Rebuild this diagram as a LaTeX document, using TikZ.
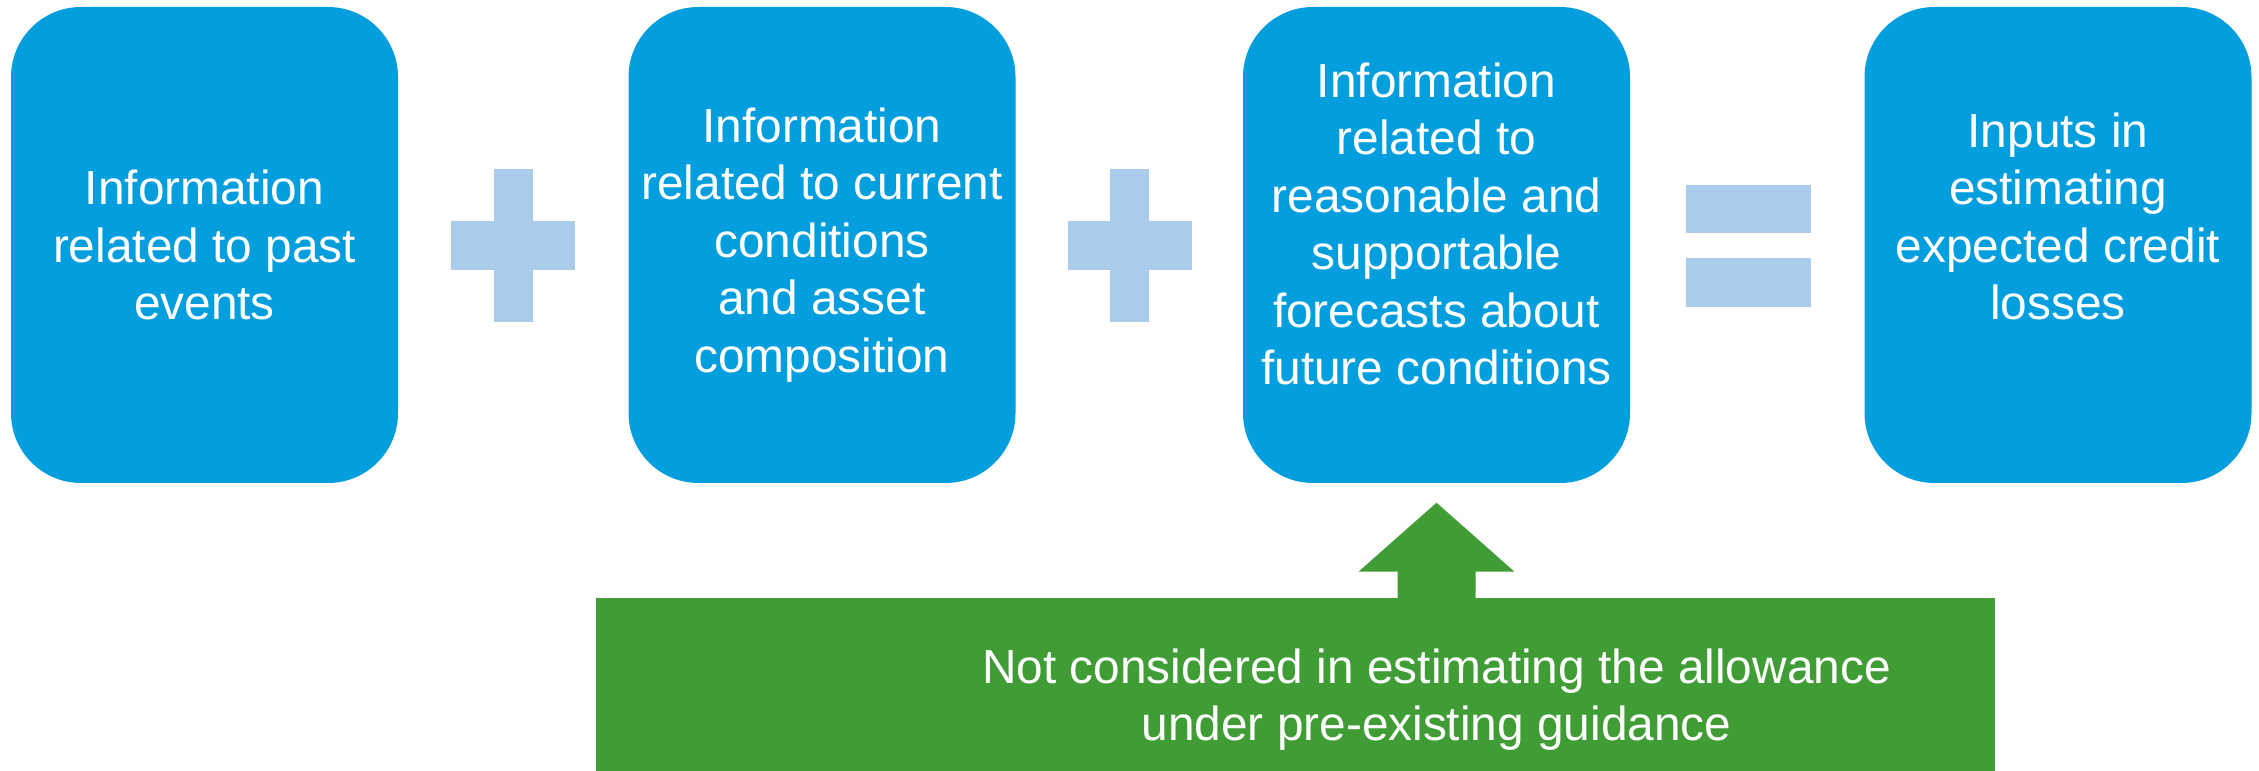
\documentclass[tikz,border=0pt]{standalone}
\usepackage{fontspec}
\setmainfont{Liberation Sans}
\definecolor{ccblue}{RGB}{2,158,221}
\definecolor{cclight}{RGB}{171,203,235}
\definecolor{ccgreen}{RGB}{64,156,52}

\begin{document}
\begin{tikzpicture}[x=1cm,y=1cm,
    infobox/.style={fill=ccblue,rounded corners=7mm,minimum width=3.87cm,minimum height=4.76cm,inner sep=2pt,text=white,align=center,font=\fontsize{13.6}{16.36}\selectfont},
    opbar/.style={fill=cclight,inner sep=0pt},
    notebox/.style={fill=ccgreen,minimum width=13.99cm,minimum height=2.04cm,inner sep=0pt},
    notetext/.style={text=white,align=center,inner sep=0pt,font=\fontsize{13.6}{16.36}\selectfont}]
    \useasboundingbox (0,0) rectangle (22.59,-7.71);

    \node[infobox] (past) at (2.045,-2.45) {Information\\related to past\\events};
    \node[infobox] (current) at (8.22,-2.45) {Information\\related to current\\conditions\\and asset\\composition};
    \node[infobox] (forecast) at (14.365,-2.45) {Information\\related to\\reasonable and\\supportable\\forecasts about\\future conditions\\[-0.145cm]\mbox{}};
    \node[infobox] (inputs) at (20.58,-2.45) {Inputs in\\estimating\\expected credit\\losses\\\mbox{}};

    % plus and equals signs
    \foreach \x/\name in {5.13/plusa,11.295/plusb} {
      \node[opbar,minimum width=1.24cm,minimum height=0.49cm] (\name h) at (\x,-2.455) {};
      \node[opbar,minimum width=0.39cm,minimum height=1.53cm] (\name v) at (\x,-2.455) {};
    }
    \node[opbar,minimum width=1.25cm,minimum height=0.48cm] (eqtop) at (17.485,-2.09) {};
    \node[opbar,minimum width=1.25cm,minimum height=0.49cm] (eqbottom) at (17.485,-2.825) {};

    \node[notebox,anchor=north] (note) at (12.955,-5.97) {};
    \coordinate (tip) at ([yshift=-0.19cm]forecast.south);
    % block arrow from the note up to the forecast box
    \fill[ccgreen] (tip) -- ++(0.78,-0.69) -- ++(-0.39,0)
      -- ([xshift=0.39cm,yshift=-0.05cm]tip |- note.north)
      -- ([xshift=-0.39cm,yshift=-0.05cm]tip |- note.north)
      -- ([xshift=-0.39cm,yshift=-0.69cm]tip) -- ++(-0.39,0) -- cycle;
    \node[notetext] (notelabel) at (note.center -| tip) {Not considered in estimating the allowance\\under pre-existing guidance};
\end{tikzpicture}
\end{document}
